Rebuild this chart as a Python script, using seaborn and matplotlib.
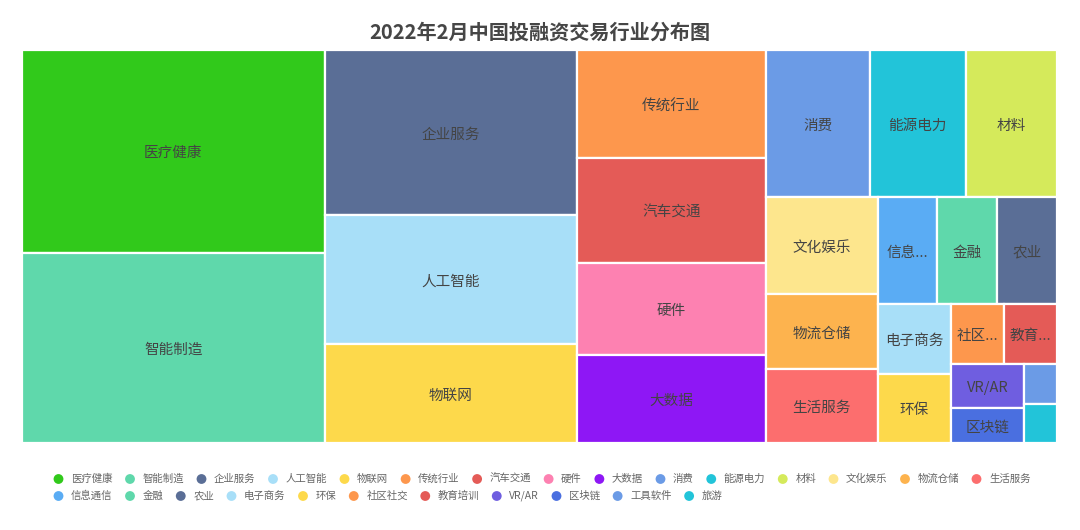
import numpy as np
import pandas as pd
import seaborn as sns
import matplotlib
matplotlib.use("Agg")
import matplotlib.pyplot as plt
from matplotlib.patches import Rectangle

# ---------------- data ----------------
title = "2022年2月中国投融资交易行业分布图"
categories = ["医疗健康", "智能制造", "企业服务", "人工智能", "物联网", "传统行业", "汽车交通",
              "硬件", "大数据", "消费", "能源电力", "材料", "文化娱乐", "物流仓储", "生活服务",
              "信息通信", "金融", "农业", "电子商务", "环保", "社区社交", "教育培训", "VR/AR",
              "区块链", "工具软件", "旅游"]
values = [96, 90, 65, 51, 39, 32, 31, 27, 26, 24, 22, 21, 17, 13, 13,
          10, 10, 10, 8, 8, 5, 5, 5, 4, 2, 2]
colors = ["#31c91b", "#5fd8ab", "#5a6e96", "#a8dff8", "#fdd94b", "#fd974d", "#e45b57",
          "#fd81b1", "#8e17f5", "#6b9be6", "#22c4d9", "#d5ea5b", "#fde68d", "#fdb34e", "#fc6e6e",
          "#5aacf4", "#5fd8ab", "#5a6e96", "#a8dff8", "#fdd94b", "#fd974d", "#e45b57", "#6f5ee0",
          "#4a6fe0", "#6b9be6", "#22c4d9"]

df = pd.DataFrame({"category": categories, "value": values, "color": colors})

# ---------------- style ----------------
sns.set_theme(style="white")
plt.rcParams['font.family'] = ['Noto Sans CJK SC', 'DejaVu Sans']

W, H = 1080, 530
fig = plt.figure(figsize=(W / 100, H / 100), dpi=100)
fig.patch.set_facecolor("white")

x0, x1, y0, y1 = 22, 1057, 50, 443
RW, RH = x1 - x0, y1 - y0
ax = fig.add_axes([x0 / W, 1 - y1 / H, RW / W, RH / H])
ax.set_xlim(0, RW)
ax.set_ylim(RH, 0)
ax.axis("off")

# ---------------- squarified layout (echarts style, golden ratio) ----------------
RATIO = 0.5 * (1 + np.sqrt(5))


def worst(row_areas, fixed):
    s = sum(row_areas)
    if s == 0:
        return np.inf
    f = fixed * fixed * RATIO
    return max(f * max(row_areas) / (s * s), (s * s) / (f * min(row_areas)))


def position(row, fixed, rect, flush):
    horizontal = fixed == rect[2]
    area = sum(a for _, a in row)
    other = area / fixed
    limit = rect[3] if horizontal else rect[2]
    if flush or other > limit:
        other = limit
    out = []
    last = rect[0] if horizontal else rect[1]
    remain = fixed
    for k, (idx, a) in enumerate(row):
        mod = remain if k == len(row) - 1 else a / other
        mod = min(mod, remain)
        if horizontal:
            out.append((idx, last, rect[1], mod, other))
        else:
            out.append((idx, rect[0], last, other, mod))
        last += mod
        remain -= mod
    if horizontal:
        rect[1] += other
        rect[3] -= other
    else:
        rect[0] += other
        rect[2] -= other
    return out


def squarify(vals, w, h):
    total = sum(vals)
    areas = [v / total * w * h for v in vals]
    rect = [0.0, 0.0, float(w), float(h)]
    fixed = min(w, h)
    row, best, res = [], np.inf, []
    i = 0
    while i < len(areas):
        row.append((i, areas[i]))
        score = worst([a for _, a in row], fixed)
        if score <= best:
            i += 1
            best = score
        else:
            row.pop()
            res += position(row, fixed, rect, False)
            fixed = min(rect[2], rect[3])
            row, best = [], np.inf
    if row:
        res += position(row, fixed, rect, True)
    return res


rects = squarify(df["value"].tolist(), RW, RH)

fig.canvas.draw()
renderer = fig.canvas.get_renderer()
LABEL_FS = 10.5


def text_width(s, fs):
    t = fig.text(0, 0, s, fontsize=fs)
    wpx = t.get_window_extent(renderer).width
    t.remove()
    return wpx


for idx, rx, ry, rw, rh in rects:
    ax.add_patch(Rectangle((rx, ry), rw, rh, facecolor=df["color"][idx],
                           edgecolor="white", linewidth=1.6))
    name = df["category"][idx]
    avail = rw - 10
    label = name
    if text_width(name, LABEL_FS) > avail:
        label = None
        for n in range(len(name) - 1, 0, -1):
            cand = name[:n] + "..."
            if text_width(cand, LABEL_FS) <= avail:
                label = cand
                break
    if label and rh > 20:
        ax.text(rx + rw / 2, ry + rh / 2 + 2, label, ha="center", va="center",
                fontsize=LABEL_FS, color="#444444")

# ---------------- title ----------------
fig.text(0.5, 1 - 32 / H, title, ha="center", va="center", fontsize=14.5,
         fontweight="bold", color="#464646")

# ---------------- legend (flowing rows) ----------------
lax = fig.add_axes([0, 0, 1, 1])
lax.set_xlim(0, W)
lax.set_ylim(H, 0)
lax.axis("off")
lax.patch.set_alpha(0)

LEG_FS = 7.5
CIRC, GAP1, GAP2 = 9, 8, 13
xcur, ycur = 54, 479
row_h = 17
for name, col in zip(categories, colors):
    tw = text_width(name, LEG_FS)
    item_w = CIRC + GAP1 + tw
    if xcur + item_w > W - 15:
        xcur = 54
        ycur += row_h
    lax.scatter([xcur + CIRC / 2], [ycur], s=50, color=col, edgecolors="none")
    lax.text(xcur + CIRC + GAP1, ycur, name, fontsize=LEG_FS, color="#666666",
             ha="left", va="center")
    xcur += item_w + GAP2

fig.savefig("out.png", dpi=100, facecolor="white")
